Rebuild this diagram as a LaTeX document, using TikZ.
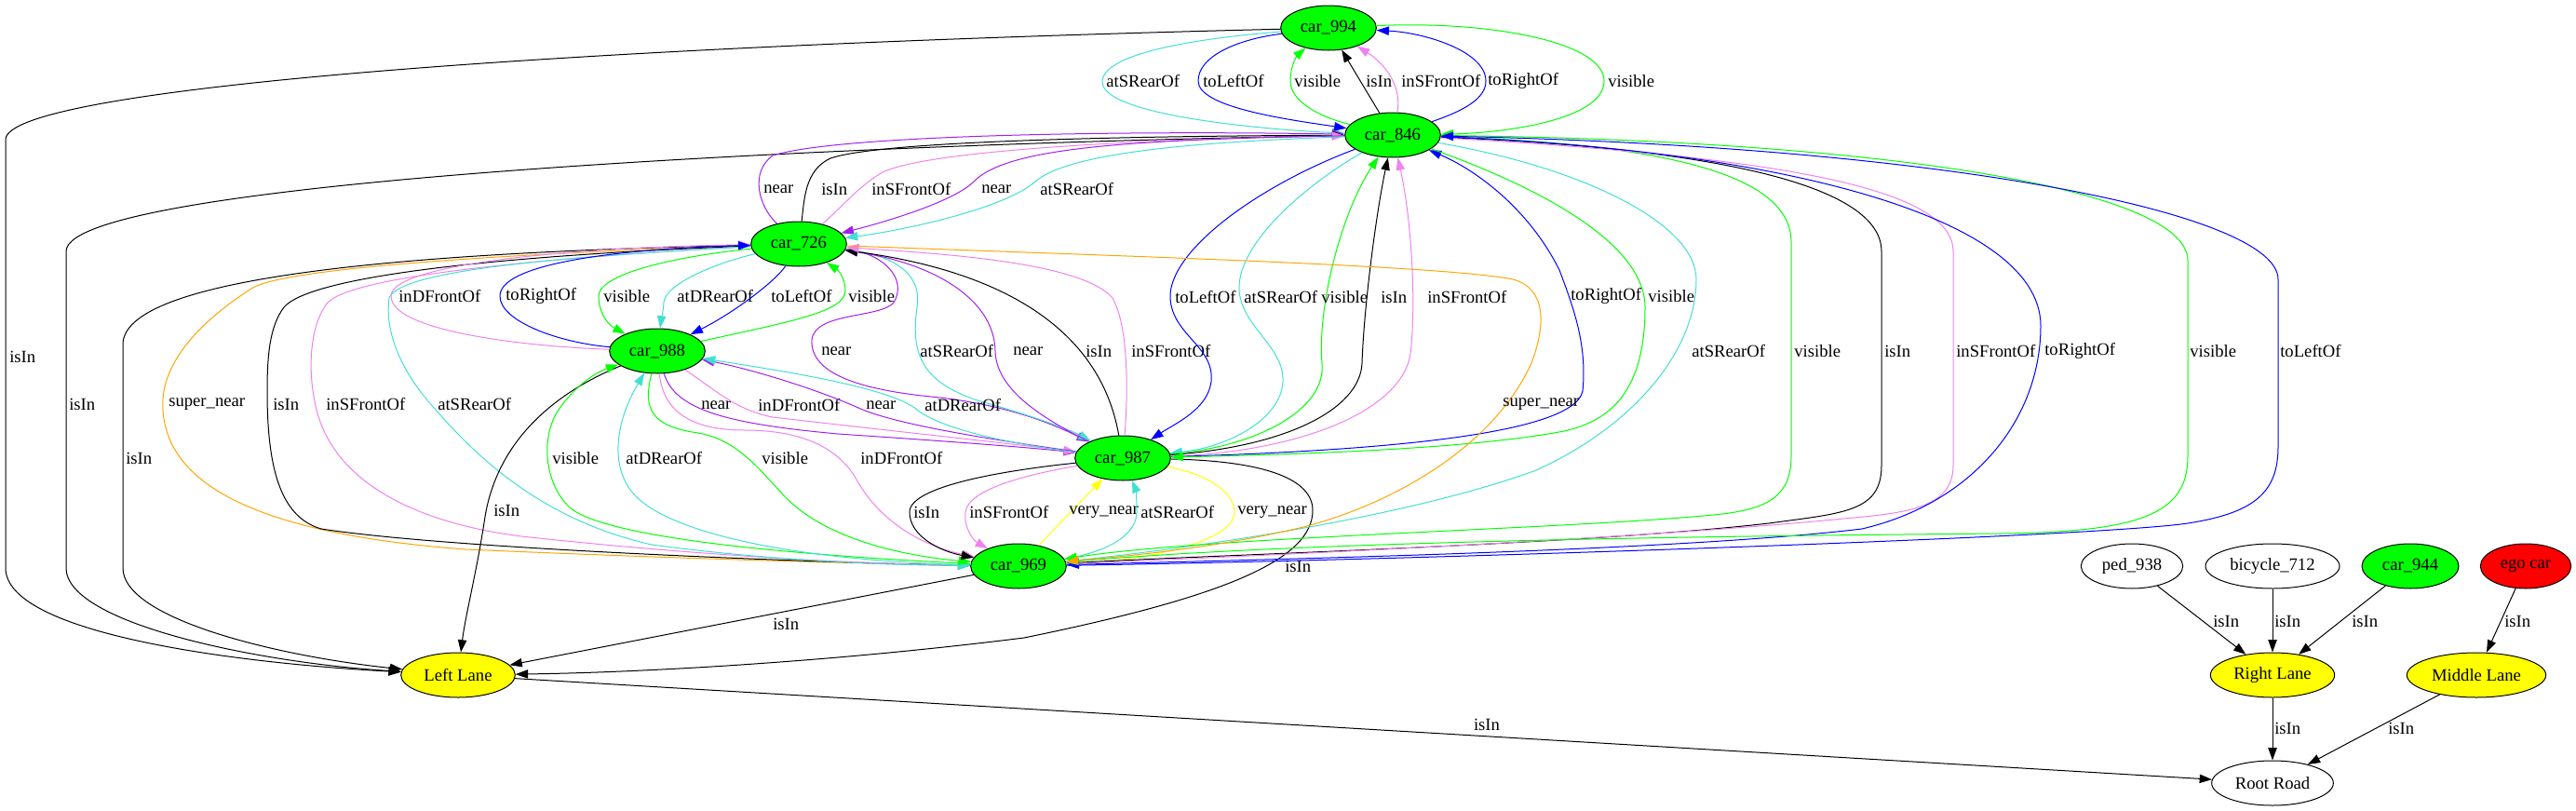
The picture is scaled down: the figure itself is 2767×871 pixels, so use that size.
\documentclass[tikz,border=0pt]{standalone}
\usepackage{fontspec}
\setmainfont{Liberation Serif}
\usetikzlibrary{arrows.meta, shapes.geometric}
\definecolor{gvgreen}{RGB}{0,255,0}
\definecolor{gvyellow}{RGB}{255,255,0}
\definecolor{gvred}{RGB}{255,0,0}
\definecolor{turq}{RGB}{64,224,208}
\definecolor{gvblue}{RGB}{0,0,255}
\definecolor{viol}{RGB}{238,130,238}
\definecolor{purp}{RGB}{160,32,240}
\definecolor{gvorange}{RGB}{255,165,0}
\tikzset{
  obj/.style={ellipse, draw, line width=0.75pt, minimum height=36pt, inner sep=0pt, font=\fontsize{14}{16}\selectfont},
  car/.style={obj, fill=gvgreen, minimum width=77pt},
  lane/.style={obj, fill=gvyellow},
  rel/.style={-{Triangle[length=10pt,width=7pt]}, line width=0.75pt},
  lbl/.style={anchor=west, inner sep=0pt, font=\fontsize{14}{16}\selectfont},
}
\begin{document}
\begin{tikzpicture}[x=0.75pt, y=-0.75pt]
  \useasboundingbox (0,0) rectangle (2767,871);
  % objects
  \node[car] (c994) at (1427,30) {car\_994};
  \node[car] (c846) at (1496,145) {car\_846};
  \node[car] (c726) at (858,262) {car\_726};
  \node[car] (c988) at (706,377) {car\_988};
  \node[car] (c987) at (1206,492) {car\_987};
  \node[car] (c969) at (1094,608) {car\_969};
  \node[obj, minimum width=82pt] (ped) at (2290,608) {ped\_938};
  \node[obj, minimum width=108pt] (bike) at (2441,608) {bicycle\_712};
  \node[car, minimum width=78pt] (c944) at (2589,608) {car\_944};
  \node[obj, fill=gvred, minimum width=73pt] (ego) at (2713,608) {ego car};
  % lanes and road
  \node[lane, minimum width=92pt] (ll) at (492,725) {Left Lane};
  \node[lane, minimum width=100pt] (rl) at (2441,725) {Right Lane};
  \node[lane, minimum width=112pt] (ml) at (2660,725) {Middle Lane};
  \node[obj, minimum width=98pt] (rr) at (2441,841) {Root Road};

  % car_994 and car_846
  \draw[rel, turq] (c994) .. controls (1300,40) and (1184,55) .. (1184,88) .. controls (1184,125) and (1370,140) .. (c846);
  \node[lbl] (t1) at (1188,87) {atSRearOf};
  \draw[rel, gvblue] (c994) .. controls (1330,42) and (1287,60) .. (1287,87) .. controls (1287,115) and (1380,128) .. (c846);
  \node[lbl] (t2) at (1292,87) {toLeftOf};
  \draw[rel, gvgreen] (c846) .. controls (1415,125) and (1386,108) .. (1386,87) .. controls (1386,68) and (1395,58) .. (c994);
  \node[lbl] (t3) at (1390,87) {visible};
  \draw[rel] (c846) -- (c994);
  \node[lbl] (t4) at (1467,87) {isIn};
  \draw[rel, viol] (c846) .. controls (1506,95) and (1490,70) .. (c994);
  \node[lbl] (t5) at (1505,87) {inSFrontOf};
  \draw[rel, gvblue] (c846) .. controls (1575,118) and (1596,105) .. (1596,87) .. controls (1596,55) and (1530,35) .. (c994);
  \node[lbl] (t6) at (1598,87) {toRightOf};
  \draw[rel, gvgreen] (c994) .. controls (1600,22) and (1723,45) .. (1723,87) .. controls (1723,130) and (1610,143) .. (c846);
  \node[lbl] (t7) at (1727,87) {visible};

  % long isIn edges to Left Lane
  \draw[rel] (c994) .. controls (600,50) and (6,95) .. (6,150) -- (6,610) .. controls (6,680) and (250,712) .. (ll);
  \node[lbl] (t8) at (10,383) {isIn};
  \draw[rel] (c846) .. controls (1000,152) and (71,190) .. (71,270) -- (71,610) .. controls (71,670) and (280,712) .. (ll);
  \node[lbl] (t9) at (74,434) {isIn};
  \draw[rel] (c726) .. controls (500,270) and (132,290) .. (132,370) -- (132,610) .. controls (132,665) and (300,705) .. (ll);
  \node[lbl] (t10) at (135,492) {isIn};

  % car_726 to car_969, left side
  \draw[rel, gvorange] (c726) .. controls (500,274) and (300,290) .. (270,310) .. controls (200,355) and (172,400) .. (175,440) .. controls (180,530) and (300,575) .. (500,590) .. controls (800,603) and (980,606) .. (c969);
  \node[lbl] (t11) at (181,434) {super\_near};
  \draw[rel] (c726) .. controls (500,276) and (330,300) .. (305,330) .. controls (290,350) and (287,380) .. (287,420) .. controls (287,500) and (300,555) .. (345,568) .. controls (500,592) and (950,606) .. (c969);
  \node[lbl] (t12) at (293,434) {isIn};
  \draw[rel, viol] (c726) .. controls (600,276) and (380,295) .. (352,325) .. controls (332,350) and (330,400) .. (340,440) .. controls (360,520) and (450,562) .. (560,576) .. controls (800,602) and (970,606) .. (c969);
  \node[lbl] (t13) at (350,434) {inSFrontOf};
  \draw[rel, turq] (c726) .. controls (600,276) and (430,290) .. (418,320) .. controls (412,365) and (440,410) .. (468,440) .. controls (520,500) and (590,560) .. (700,585) .. controls (850,605) and (980,607) .. (c969);
  \node[lbl] (t14) at (470,434) {atSRearOf};

  % car_988 and car_726
  \draw[rel, viol] (c988) .. controls (560,372) and (420,355) .. (420,318) .. controls (420,285) and (600,266) .. (c726);
  \node[lbl] (t15) at (428,318) {inDFrontOf};
  \draw[rel, gvblue] (c988) .. controls (600,368) and (537,345) .. (537,318) .. controls (537,285) and (650,268) .. (c726);
  \node[lbl] (t16) at (543,318) {toRightOf};
  \draw[rel, gvgreen] (c726) .. controls (720,276) and (643,295) .. (643,318) .. controls (643,335) and (652,348) .. (c988);
  \node[lbl] (t17) at (648,318) {visible};
  \draw[rel, turq] (c726) .. controls (770,282) and (714,305) .. (713,325) .. controls (712,338) and (710,345) .. (c988);
  \node[lbl] (t18) at (727,318) {atDRearOf};
  \draw[rel, gvblue] (c726) .. controls (835,300) and (790,335) .. (c988);
  \node[lbl] (t19) at (828,318) {toLeftOf};
  \draw[rel, gvgreen] (c988) .. controls (850,345) and (908,335) .. (908,312) .. controls (908,298) and (900,290) .. (c726);
  \node[lbl] (t20) at (911,318) {visible};

  % car_726 and car_846
  \draw[rel, purp] (c726) .. controls (815,222) and (805,185) .. (830,167) .. controls (900,145) and (1200,140) .. (c846);
  \node[lbl] (t21) at (820,203) {near};
  \draw[rel] (c726) .. controls (864,215) and (864,183) .. (892,170) .. controls (950,150) and (1250,146) .. (c846);
  \node[lbl] (t22) at (882,203) {isIn};
  \draw[rel, viol] (c726) .. controls (905,222) and (922,200) .. (948,185) .. controls (1000,160) and (1250,149) .. (c846);
  \node[lbl] (t23) at (936,203) {inSFrontOf};
  \draw[rel, purp] (c846) .. controls (1200,150) and (1080,160) .. (1046,195) .. controls (1026,215) and (960,236) .. (c726);
  \node[lbl] (t24) at (1054,203) {near};
  \draw[rel, turq] (c846) .. controls (1300,152) and (1150,162) .. (1112,195) .. controls (1082,222) and (980,246) .. (c726);
  \node[lbl] (t25) at (1117,203) {atSRearOf};

  % car_726 and car_987
  \draw[rel, purp] (c726) .. controls (950,272) and (975,300) .. (960,325) .. controls (945,342) and (875,335) .. (872,365) .. controls (870,400) and (920,418) .. (1000,426) .. controls (1080,434) and (1130,455) .. (c987);
  \node[lbl] (t26) at (882,377) {near};
  \draw[rel, turq] (c726) .. controls (970,275) and (990,300) .. (985,330) .. controls (978,380) and (990,410) .. (1050,430) .. controls (1120,450) and (1150,462) .. (c987);
  \node[lbl] (t27) at (988,377) {atSRearOf};
  \draw[rel, purp] (c987) .. controls (1100,440) and (1070,410) .. (1069,377) .. controls (1068,320) and (1000,282) .. (c726);
  \node[lbl] (t28) at (1088,377) {near};
  \draw[rel] (c987) .. controls (1190,400) and (1140,300) .. (c726);
  \node[lbl] (t29) at (1166,377) {isIn};
  \draw[rel, viol] (c987) .. controls (1212,420) and (1212,350) .. (1195,320) .. controls (1160,280) and (1000,272) .. (c726);
  \node[lbl] (t30) at (1215,377) {inSFrontOf};

  % car_988 and car_987
  \draw[rel, purp] (c988) .. controls (725,440) and (780,455) .. (900,466) .. controls (1050,476) and (1120,482) .. (c987);
  \node[lbl] (t31) at (753,435) {near};
  \draw[rel, viol] (c988) .. controls (770,420) and (790,440) .. (830,448) .. controls (950,462) and (1100,478) .. (c987);
  \node[lbl] (t32) at (814,435) {inDFrontOf};
  \draw[rel, purp] (c987) .. controls (1050,470) and (960,455) .. (922,438) .. controls (870,415) and (800,395) .. (c988);
  \node[lbl] (t33) at (930,435) {near};
  \draw[rel, turq] (c987) .. controls (1080,476) and (1010,460) .. (985,440) .. controls (955,415) and (830,397) .. (c988);
  \node[lbl] (t34) at (993,435) {atDRearOf};

  % car_988, car_969 and Left Lane
  \draw[rel] (c988) .. controls (600,420) and (535,470) .. (521,555) .. controls (512,615) and (500,660) .. (ll);
  \node[lbl] (t35) at (530,548) {isIn};
  \draw[rel, gvgreen] (c969) .. controls (850,596) and (650,578) .. (612,545) .. controls (585,520) and (580,470) .. (600,440) .. controls (618,414) and (640,400) .. (c988);
  \node[lbl] (t36) at (593,492) {visible};
  \draw[rel, turq] (c969) .. controls (850,602) and (720,572) .. (682,532) .. controls (655,503) and (660,455) .. (c988);
  \node[lbl] (t37) at (672,492) {atDRearOf};
  \draw[rel, gvgreen] (c988) .. controls (690,440) and (700,458) .. (750,465) .. controls (790,472) and (812,500) .. (840,530) .. controls (880,575) and (960,596) .. (c969);
  \node[lbl] (t38) at (818,492) {visible};
  \draw[rel, viol] (c988) .. controls (712,440) and (740,462) .. (800,462) .. controls (860,462) and (900,480) .. (920,515) .. controls (945,560) and (990,586) .. (c969);
  \node[lbl] (t39) at (924,492) {inDFrontOf};

  % car_987 and car_969
  \draw[rel] (c987) .. controls (1080,505) and (977,522) .. (977,550) .. controls (977,576) and (1010,592) .. (c969);
  \node[lbl] (t40) at (981,550) {isIn};
  \draw[rel, viol] (c987) .. controls (1100,510) and (1040,526) .. (1037,550) .. controls (1035,566) and (1045,580) .. (c969);
  \node[lbl] (t41) at (1041,550) {inSFrontOf};
  \draw[rel, gvyellow] (c969) -- (c987);
  \node[lbl] (t42) at (1148,550) {very\_near};
  \draw[rel, turq] (c969) .. controls (1195,592) and (1221,572) .. (1221,550) .. controls (1221,536) and (1220,526) .. (c987);
  \node[lbl] (t43) at (1225,550) {atSRearOf};
  \draw[rel, gvyellow] (c987) .. controls (1300,510) and (1326,530) .. (1326,550) .. controls (1326,582) and (1230,602) .. (c969);
  \node[lbl] (t44) at (1329,550) {very\_near};
  \draw[rel] (c987) .. controls (1360,495) and (1410,515) .. (1410,548) .. controls (1410,600) and (1320,640) .. (1100,685) .. controls (900,710) and (700,722) .. (ll);
  \node[lbl] (t45) at (1380,608) {isIn};
  \draw[rel] (c969) -- (ll);
  \node[lbl] (t46) at (830,670) {isIn};

  % car_846 and car_987
  \draw[rel, gvblue] (c846) .. controls (1350,200) and (1255,270) .. (1257,320) .. controls (1259,360) and (1305,372) .. (1301,410) .. controls (1297,440) and (1262,455) .. (c987);
  \node[lbl] (t47) at (1262,319) {toLeftOf};
  \draw[rel, turq] (c846) .. controls (1400,200) and (1330,262) .. (1331,310) .. controls (1332,350) and (1380,372) .. (1378,410) .. controls (1376,450) and (1320,480) .. (c987);
  \node[lbl] (t48) at (1336,319) {atSRearOf};
  \draw[rel, gvgreen] (c987) .. controls (1350,480) and (1425,440) .. (1420,390) .. controls (1415,330) and (1440,230) .. (c846);
  \node[lbl] (t49) at (1419,319) {visible};
  \draw[rel] (c987) .. controls (1380,480) and (1461,440) .. (1463,390) .. controls (1465,330) and (1478,230) .. (c846);
  \node[lbl] (t50) at (1483,319) {isIn};
  \draw[rel, viol] (c987) .. controls (1400,485) and (1506,440) .. (1515,380) .. controls (1522,320) and (1515,230) .. (c846);
  \node[lbl] (t51) at (1533,319) {inSFrontOf};
  \draw[rel, gvblue] (c987) .. controls (1450,485) and (1690,470) .. (1700,420) .. controls (1705,370) and (1690,330) .. (1675,290) .. controls (1640,220) and (1580,180) .. (c846);
  \node[lbl] (t52) at (1687,318) {toRightOf};
  \draw[rel, gvgreen] (c846) .. controls (1650,200) and (1767,260) .. (1767,330) .. controls (1767,420) and (1730,452) .. (1680,463) .. controls (1580,482) and (1400,488) .. (c987);
  \node[lbl] (t53) at (1770,318) {visible};

  % car_846 and car_969, far right
  \draw[rel, turq] (c846) .. controls (1700,180) and (1822,240) .. (1822,300) .. controls (1822,380) and (1750,460) .. (1650,505) .. controls (1500,560) and (1250,592) .. (c969);
  \node[lbl] (t54) at (1817,377) {atSRearOf};
  \draw[rel, gvgreen] (c846) .. controls (1800,155) and (1924,190) .. (1924,260) -- (1924,490) .. controls (1924,532) and (1900,546) .. (1850,552) .. controls (1700,568) and (1300,576) .. (c969);
  \node[lbl] (t55) at (1927,377) {visible};
  \draw[rel] (c846) .. controls (1850,160) and (2021,200) .. (2021,270) -- (2021,500) .. controls (2021,550) and (1980,551) .. (1900,562) .. controls (1700,585) and (1300,596) .. (c969);
  \node[lbl] (t56) at (2024,377) {isIn};
  \draw[rel, viol] (c846) .. controls (1900,168) and (2098,200) .. (2098,270) -- (2098,500) .. controls (2098,545) and (2050,551) .. (1980,557) .. controls (1750,580) and (1300,599) .. (c969);
  \node[lbl] (t57) at (2101,377) {inSFrontOf};
  \draw[rel, gvblue] (c846) .. controls (1900,160) and (2192,230) .. (2192,350) .. controls (2192,450) and (2120,540) .. (2000,568) .. controls (1800,592) and (1350,601) .. (c969);
  \node[lbl] (t58) at (2196,377) {toRightOf};
  \draw[rel, gvgreen] (c846) .. controls (2000,150) and (2350,200) .. (2350,280) -- (2350,490) .. controls (2350,552) and (2300,571) .. (2150,573) .. controls (1800,576) and (1400,582) .. (c969);
  \node[lbl] (t59) at (2352,377) {visible};
  \draw[rel, gvblue] (c969) .. controls (1500,602) and (2250,577) .. (2350,562) .. controls (2420,551) and (2447,530) .. (2447,480) -- (2447,300) .. controls (2447,230) and (2100,158) .. (c846);
  \node[lbl] (t60) at (2449,377) {toLeftOf};

  % car_726 to car_969, right side
  \draw[rel, gvorange] (c726) .. controls (1200,275) and (1550,285) .. (1625,300) .. controls (1662,310) and (1660,350) .. (1645,390) .. controls (1605,478) and (1500,540) .. (1400,566) .. controls (1300,590) and (1200,598) .. (c969);
  \node[lbl] (t61) at (1614,434) {super\_near};

  % lanes to the road
  \draw[rel] (ll) -- (rr);
  \node[lbl, anchor=center] (t62) at (1597,778) {isIn};
  \draw[rel] (ped) -- (rl);
  \node[lbl] (t63) at (2377,667) {isIn};
  \draw[rel] (bike) -- (rl);
  \node[lbl] (t64) at (2443,667) {isIn};
  \draw[rel] (c944) -- (rl);
  \node[lbl] (t65) at (2526,667) {isIn};
  \draw[rel] (ego) -- (ml);
  \node[lbl] (t66) at (2690,667) {isIn};
  \draw[rel] (rl) -- (rr);
  \node[lbl] (t67) at (2443,782) {isIn};
  \draw[rel] (ml) -- (rr);
  \node[lbl] (t68) at (2565,782) {isIn};
\end{tikzpicture}
\end{document}
